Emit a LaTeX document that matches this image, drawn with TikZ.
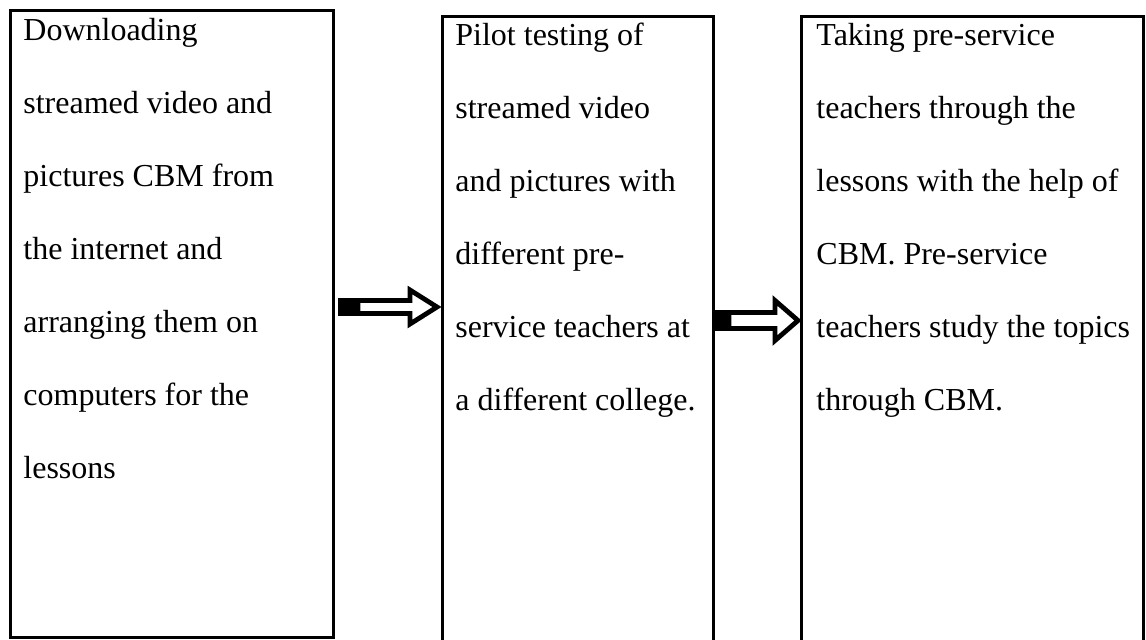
\documentclass[tikz,border=0pt]{standalone}
\usepackage{fontspec}
\setmainfont{Liberation Serif}
\usepackage{tikz}

\begin{document}
\begin{tikzpicture}[x=0.5pt,y=-0.5pt,
		panel/.style={draw,line width=1.5pt},
		txt/.style={anchor=base west,inner sep=0pt,align=flush left,text width=#1,
			font=\fontsize{16}{36.5}\selectfont},
		shaft/.style={draw,fill=white,line width=2.4pt,line join=miter}]
			
			\useasboundingbox (0,0) rectangle (1146,639);
			
			% boxes
			\draw[panel] (10,10) rectangle (333,637);
			\draw[panel] (442,16) rectangle (713,660);
			\draw[panel] (801,16) rectangle (1143,660);
			
			\node[txt=160pt] (download) at (23,40) {Downloading\\streamed video and\\pictures CBM from\\the internet and\\arranging them on\\computers for the\\lessons};
			\node[txt=140pt] (pilot) at (455,45) {Pilot testing of\\streamed video\\and pictures with\\different pre-\\service teachers at\\a different college.};
			\node[txt=170pt] (taking) at (816,45) {Taking pre-service\\teachers through the\\lessons with the help of\\CBM. Pre-service\\teachers study the topics\\through CBM.};
			
			% arrows
			\draw[shaft] (358,300.5) -- (410,300.5) -- (410,290) -- (437,307) -- (410,324) -- (410,313.5) -- (358,313.5) -- cycle;
			\fill (338,298) rectangle (360,316);
			\draw[shaft] (729,312.5) -- (775,312.5) -- (775,300.5) -- (798,320.5) -- (775,340.5) -- (775,328.5) -- (729,328.5) -- cycle;
			\fill (714,310) rectangle (731,331);
			
		\end{tikzpicture}
\end{document}
